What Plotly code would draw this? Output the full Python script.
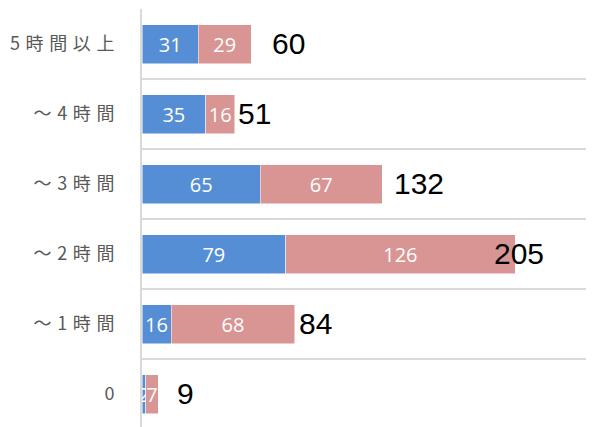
import plotly.graph_objects as go

categories = ["5時間以上", "～4時間", "～3時間", "～2時間", "～1時間", "0"]
series_a = [31, 35, 65, 79, 16, 2]
series_b = [29, 16, 67, 126, 68, 7]
totals = [60, 51, 132, 205, 84, 9]

# label placement tweaks (pixels), matching the hand-placed total labels
total_shift_px = [19, 1, 10, -23, 2, 17]

tick_text = ["\u2005\u200a".join(list(c)) for c in categories]

fig = go.Figure()
common = dict(
    orientation="h",
    textposition="inside",
    insidetextanchor="middle",
    textangle=0,
    constraintext="none",
    texttemplate="%{x}",
    textfont=dict(family="Open Sans", size=20, color="white"),
    hoverinfo="skip",
)
fig.add_trace(go.Bar(y=categories, x=series_a, name="A",
                     marker=dict(color="#558ED5", line=dict(color="white", width=0.5)), **common))
fig.add_trace(go.Bar(y=categories, x=series_b, name="B",
                     marker=dict(color="#D99594", line=dict(color="white", width=0.5)), **common))

for i, (tot, sh) in enumerate(zip(totals, total_shift_px)):
    fig.add_annotation(x=tot, y=i, text=str(tot), showarrow=False,
                       xanchor="left", yanchor="middle", xshift=sh, yshift=1,
                       font=dict(family="Liberation Sans, Arial", size=30, color="black"))

# the page body has an 8px default margin, so the figure is sized to fit the window
W, H, PAGE_OFF = 594, 427, 8
band = 70.0
plot_h = (H - PAGE_OFF) - 1
fig.update_layout(
    width=W - PAGE_OFF, height=H - PAGE_OFF,
    margin=dict(l=134, r=0, t=1, b=0, autoexpand=False),
    barmode="stack",
    bargap=31 / 70,
    showlegend=False,
    plot_bgcolor="white",
    paper_bgcolor="white",
    xaxis=dict(range=[0, 248.4], showgrid=False, zeroline=False, automargin=False,
               showticklabels=False, showline=False, fixedrange=True),
    yaxis=dict(type="category", categoryorder="array", categoryarray=categories,
               range=[-0.5 + plot_h / band, -0.5], automargin=False,
               tickmode="array", tickvals=categories, ticktext=tick_text,
               tickson="boundaries", ticks="", ticklabelstandoff=22,
               showgrid=True, gridcolor="#D9D9D9", gridwidth=1.5,
               showline=True, linecolor="#D9D9D9", linewidth=2,
               zeroline=False,
               tickfont=dict(family="Noto Sans CJK JP", size=18, color="#595959")),
)

fig.write_html("out.html")
